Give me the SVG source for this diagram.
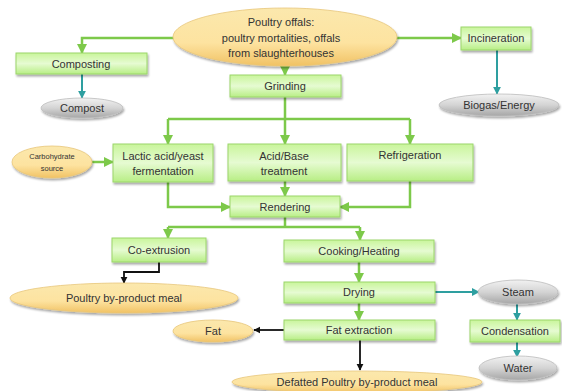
<svg xmlns="http://www.w3.org/2000/svg" width="562" height="391" viewBox="0 0 562 391">
<defs>
<linearGradient id="gb" x1="0" y1="0" x2="0" y2="1"><stop offset="0" stop-color="#c9f59b"/><stop offset="0.5" stop-color="#e6fbd2"/><stop offset="1" stop-color="#b8ee85"/></linearGradient>
<linearGradient id="gy" x1="0" y1="0" x2="0" y2="1"><stop offset="0" stop-color="#fbe8ad"/><stop offset="0.6" stop-color="#fde3a0"/><stop offset="1" stop-color="#f1c264"/></linearGradient>
<linearGradient id="gg" x1="0" y1="0" x2="0" y2="1"><stop offset="0" stop-color="#f2f2f2"/><stop offset="0.5" stop-color="#d4d4d4"/><stop offset="1" stop-color="#a6a6a6"/></linearGradient>
<filter id="sh" x="-10%" y="-20%" width="125%" height="160%"><feGaussianBlur in="SourceAlpha" stdDeviation="1.2"/><feOffset dx="1" dy="2"/><feComponentTransfer><feFuncA type="linear" slope="0.35"/></feComponentTransfer><feMerge><feMergeNode/><feMergeNode in="SourceGraphic"/></feMerge></filter>
<marker id="ag" viewBox="0 0 10 10" refX="9" refY="5" markerWidth="4" markerHeight="4" orient="auto"><path d="M0,0 L10,5 L0,10 z" fill="#7dc94a"/></marker>
<marker id="at" viewBox="0 0 10 10" refX="9" refY="5" markerWidth="4" markerHeight="4" orient="auto"><path d="M0,0 L10,5 L0,10 z" fill="#2e9fa0"/></marker>
<marker id="ak" viewBox="0 0 10 10" refX="9" refY="5" markerWidth="4" markerHeight="4" orient="auto"><path d="M0,0 L10,5 L0,10 z" fill="#111"/></marker>
</defs>
<style>
.box{fill:url(#gb);stroke:#9bd66b;stroke-width:1;filter:url(#sh)}
.ye{fill:url(#gy);stroke:#e9c77a;stroke-width:0.8;filter:url(#sh)}
.gr{fill:url(#gg);stroke:#bdbdbd;stroke-width:0.8;filter:url(#sh)}
text{font-family:"Liberation Sans",Arial,sans-serif;font-size:11px;fill:#333;text-anchor:middle;dominant-baseline:central}
.g{fill:none;stroke:#7dc94a;stroke-width:2.5;marker-end:url(#ag)}
.gn{fill:none;stroke:#7dc94a;stroke-width:2.5}
.t{fill:none;stroke:#2e9fa0;stroke-width:2;marker-end:url(#at)}
.k{fill:none;stroke:#111;stroke-width:1.8;marker-end:url(#ak)}
</style>
<g id="connectors">
<path class="g" d="M174,38 H82 V53"/>
<path class="t" d="M82,74 V98"/>
<path class="g" d="M396,38 H461"/>
<path class="t" d="M497,50 V94"/>
<path class="g" d="M285,66 V75"/>
<path class="gn" d="M285,97 V119 M168,119 H410"/>
<path class="g" d="M168,119 V144"/>
<path class="g" d="M285,119 V144"/>
<path class="g" d="M410,119 V144"/>
<path class="g" d="M92,162 H113"/>
<path class="g" d="M168,182 V207 H230"/>
<path class="g" d="M285,181 V196"/>
<path class="g" d="M410,181 V207 H340"/>
<path class="gn" d="M285,217 V227 M168,227 H360"/>
<path class="g" d="M168,227 V238"/>
<path class="g" d="M360,227 V240"/>
<path class="k" d="M159,262 V272 H124 V283"/>
<path class="g" d="M359,262 V282"/>
<path class="g" d="M359,303 V320"/>
<path class="t" d="M435,292 H479"/>
<path class="t" d="M517,304 V320"/>
<path class="t" d="M517,342 V357"/>
<path class="k" d="M284,330 H254"/>
<path class="k" d="M360,340 V370"/>
</g>
<g id="n-offals"><ellipse class="ye" cx="285" cy="37" rx="112" ry="29"/><text x="281" y="22">Poultry offals:</text><text x="281" y="38">poultry mortalities, offals</text><text x="281" y="53">from slaughterhouses</text></g>
<g id="n-composting"><rect class="box" x="16" y="53" width="131" height="21"/><text x="81" y="64">Composting</text></g>
<g id="n-compost"><ellipse class="gr" cx="82" cy="108" rx="41" ry="10"/><text x="82" y="108">Compost</text></g>
<g id="n-incineration"><rect class="box" x="461" y="27" width="70" height="23"/><text x="496" y="38">Incineration</text></g>
<g id="n-biogas"><ellipse class="gr" cx="499" cy="105" rx="60" ry="11"/><text x="499" y="105">Biogas/Energy</text></g>
<g id="n-grinding"><rect class="box" x="230" y="75" width="111" height="22"/><text x="285" y="86">Grinding</text></g>
<g id="n-carb"><ellipse class="ye" cx="52" cy="162" rx="40" ry="16"/><text x="52" y="156" style="font-size:7.5px">Carbohydrate</text><text x="52" y="168" style="font-size:7.5px">source</text></g>
<g id="n-lactic"><rect class="box" x="113" y="144" width="100" height="38"/><text x="163" y="156">Lactic acid/yeast</text><text x="163" y="171">fermentation</text></g>
<g id="n-acid"><rect class="box" x="228" y="144" width="113" height="37"/><text x="284" y="156">Acid/Base</text><text x="284" y="171">treatment</text></g>
<g id="n-refrig"><rect class="box" x="347" y="144" width="126" height="37"/><text x="410" y="155">Refrigeration</text></g>
<g id="n-rendering"><rect class="box" x="230" y="196" width="110" height="21"/><text x="285" y="207">Rendering</text></g>
<g id="n-coext"><rect class="box" x="112" y="238" width="94" height="24"/><text x="159" y="250">Co-extrusion</text></g>
<g id="n-cooking"><rect class="box" x="284" y="240" width="150" height="22"/><text x="359" y="251">Cooking/Heating</text></g>
<g id="n-pbm"><ellipse class="ye" cx="124" cy="298" rx="114" ry="15"/><text x="124" y="298">Poultry by-product meal</text></g>
<g id="n-drying"><rect class="box" x="284" y="282" width="151" height="21"/><text x="359" y="292">Drying</text></g>
<g id="n-steam"><ellipse class="gr" cx="518" cy="292" rx="40" ry="12"/><text x="518" y="292">Steam</text></g>
<g id="n-fatext"><rect class="box" x="284" y="320" width="151" height="20"/><text x="359" y="330">Fat extraction</text></g>
<g id="n-fat"><ellipse class="ye" cx="213" cy="331" rx="40" ry="11"/><text x="213" y="331">Fat</text></g>
<g id="n-cond"><rect class="box" x="470" y="320" width="90" height="22"/><text x="515" y="331">Condensation</text></g>
<g id="n-water"><ellipse class="gr" cx="518" cy="368" rx="39" ry="12"/><text x="518" y="368">Water</text></g>
<g id="n-defatted"><ellipse class="ye" cx="357" cy="382" rx="125" ry="11"/><text x="357" y="382">Defatted Poultry by-product meal</text></g>
</svg>
